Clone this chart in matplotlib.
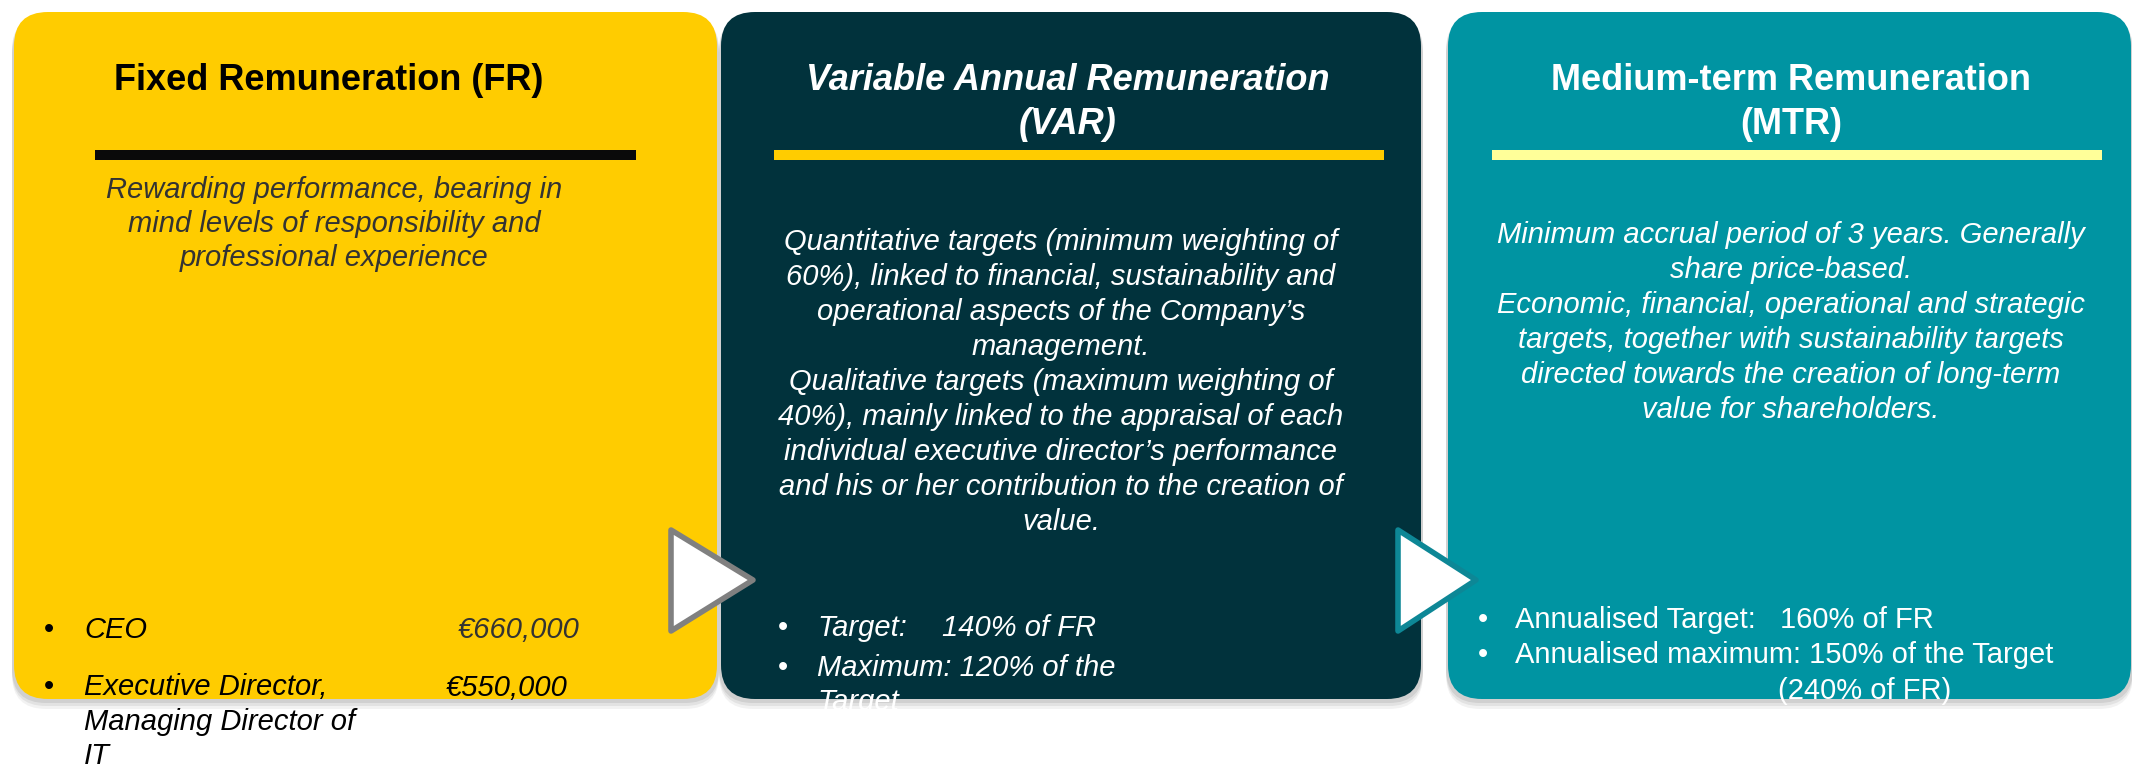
import matplotlib
matplotlib.use("Agg")
import matplotlib.pyplot as plt
from matplotlib.patches import FancyBboxPatch, Polygon, Rectangle

# ---------------- content ----------------
titles = [["Fixed Remuneration (FR)"],
          ["Variable Annual Remuneration", "(VAR)"],
          ["Medium-term Remuneration", "(MTR)"]]
fr_desc = ["Rewarding performance, bearing in",
           "mind levels of responsibility and",
           "professional experience"]
var_desc = ["Quantitative targets (minimum weighting of",
            "60%), linked to financial, sustainability and",
            "operational aspects of the Company\u2019s",
            "management.",
            "Qualitative targets (maximum weighting of",
            "40%), mainly linked to the appraisal of each",
            "individual executive director\u2019s performance",
            "and his or her contribution to the creation of",
            "value."]
mtr_desc = ["Minimum accrual period of 3 years. Generally",
            "share price-based.",
            "Economic, financial, operational and strategic",
            "targets, together with sustainability targets",
            "directed towards the creation of long-term",
            "value for shareholders."]
fr_roles = [["CEO"], ["Executive Director,", "Managing Director of", "IT"]]
fr_amounts = ["\u20ac660,000", "\u20ac550,000"]
var_labels = [["Target:"], ["Maximum: 120% of the", "Target"]]
var_values = ["140% of FR", ""]
mtr_labels = ["Annualised Target:", "Annualised maximum: 150% of the Target"]
mtr_values = ["160% of FR", "(240% of FR)"]

YELLOW = "#FFCC00"
DARK = "#01323C"
TEAL = "#0094A2"

plt.rcParams['font.family'] = ['Liberation Sans', 'DejaVu Sans']

fig = plt.figure(figsize=(21.32, 7.66), dpi=100)
ax = fig.add_axes([0, 0, 1, 1])
ax.set_xlim(0, 2132)
ax.set_ylim(766, 0)
ax.axis('off')

panels = [(14, 717, YELLOW), (721, 1421, DARK), (1448, 2131, TEAL)]
TOP, BOT = 12, 699

# shadows
for x0, x1, c in panels:
    for off, a in [(10, 0.10), (7, 0.15), (4, 0.2)]:
        ax.add_patch(FancyBboxPatch((x0 - 2, TOP + off), x1 - x0 + 4, BOT - TOP,
                                    boxstyle="round,pad=0,rounding_size=34",
                                    fc="#888888", ec="none", alpha=a, zorder=1))
for x0, x1, c in panels:
    ax.add_patch(FancyBboxPatch((x0, TOP), x1 - x0, BOT - TOP,
                                boxstyle="round,pad=0,rounding_size=34",
                                fc=c, ec="none", zorder=2))

# bars under titles
bars = [(95, 636, "#0A0A0A"), (774, 1384, YELLOW), (1492, 2102, "#FFFF99")]
for x0, x1, c in bars:
    ax.add_patch(Rectangle((x0, 150), x1 - x0, 10, fc=c, ec="none", zorder=3))

TS = 26
title_x = [329, 1068, 1791]
title_style = ['normal', 'italic', 'normal']
title_col = ['black', 'white', 'white']
for k in range(3):
    for j, line in enumerate(titles[k]):
        ax.text(title_x[k], 81 + 43 * j, line, ha='center', va='center',
                fontsize=TS, fontweight='bold', style=title_style[k],
                color=title_col[k], zorder=5)

BS = 21
for i, line in enumerate(fr_desc):
    ax.text(334, 190 + 34 * i, line, ha='center', va='center', fontsize=BS,
            style='italic', color='#333333', zorder=5)
for i, line in enumerate(var_desc):
    ax.text(1061, 242 + 35 * i, line, ha='center', va='center', fontsize=BS,
            style='italic', color='white', zorder=5)
for i, line in enumerate(mtr_desc):
    ax.text(1791, 235 + 35 * i, line, ha='center', va='center', fontsize=BS,
            style='italic', color='white', zorder=5)

# bullets panel 1
fr_y = [[630], [687, 722, 756]]
for i in range(2):
    ax.text(49, fr_y[i][0], "\u2022", ha='center', va='center', fontsize=BS,
            color='black', zorder=5)
    for j, line in enumerate(fr_roles[i]):
        ax.text(84, fr_y[i][j], line, ha='left', va='center', fontsize=BS,
                style='italic', color='black', zorder=5)
ax.text(580, 630, fr_amounts[0], ha='right', va='center', fontsize=BS,
        style='italic', color='#333333', zorder=5)
ax.text(568, 688, fr_amounts[1], ha='right', va='center', fontsize=BS,
        style='italic', color='black', zorder=5)

# bullets panel 2
var_y = [[628], [668, 702]]
for i in range(2):
    ax.text(783, var_y[i][0], "\u2022", ha='center', va='center', fontsize=BS,
            color='white', zorder=5)
    for j, line in enumerate(var_labels[i]):
        ax.text(817, var_y[i][j], line, ha='left', va='center', fontsize=BS,
                style='italic', color='white', zorder=5)
ax.text(942, 628, var_values[0], ha='left', va='center', fontsize=BS,
        style='italic', color='white', zorder=5)

# bullets panel 3
mtr_y = [620, 655]
for i in range(2):
    ax.text(1483, mtr_y[i], "\u2022", ha='center', va='center', fontsize=BS,
            color='white', zorder=5)
    ax.text(1515, mtr_y[i], mtr_labels[i], ha='left', va='center',
            fontsize=BS, color='white', zorder=5)
ax.text(1780, 620, mtr_values[0], ha='left', va='center', fontsize=BS,
        color='white', zorder=5)
ax.text(1778, 691, mtr_values[1], ha='left', va='center', fontsize=BS,
        color='white', zorder=5)

# arrows
ax.add_patch(Polygon([(671, 530), (671, 631), (753, 580)], closed=True,
                     fc='white', ec='#808080', lw=4, joinstyle='round', zorder=6))
ax.add_patch(Polygon([(1398, 530), (1398, 631), (1476, 580)], closed=True,
                     fc='white', ec='#0D8796', lw=4, joinstyle='round', zorder=6))

fig.savefig("out.png", dpi=100, facecolor='white')
